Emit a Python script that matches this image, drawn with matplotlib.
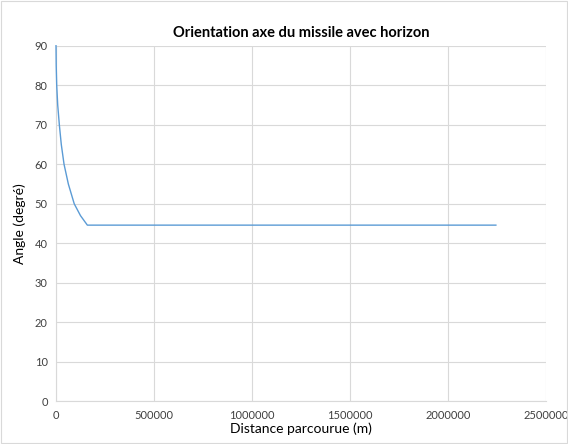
import matplotlib.pyplot as plt

# distance parcourue (m) / angle (degrés)
distance = [0, 1000, 3600, 8700, 17000, 27000, 41000, 63000, 93000, 125000, 160000, 2245000]
angle = [90, 85, 80, 75, 70, 65, 60, 55, 50, 47, 44.6, 44.6]

x_ticks = [0, 500000, 1000000, 1500000, 2000000, 2500000]
y_ticks = list(range(0, 91, 10))

plt.rcParams['font.family'] = ['Lato', 'DejaVu Sans']

fig = plt.figure(figsize=(5.68, 4.44), dpi=100)
ax = fig.add_axes([0.0986, 0.096, 0.8624, 0.801])

ax.plot(distance, angle, color='#5b9bd5', lw=1.0, zorder=3, clip_on=False)

ax.set_xlim(0, 2500000)
ax.set_ylim(0, 90)
ax.set_xticks(x_ticks)
ax.set_yticks(y_ticks)
ax.set_xticklabels([str(t) for t in x_ticks])
ax.tick_params(axis='both', length=0, labelsize=8, colors='#404040', pad=6)
ax.grid(True, color='#d9d9d9', lw=0.8)
ax.set_axisbelow(True)
for s in ['top', 'right']:
    ax.spines[s].set_visible(False)
ax.spines['left'].set_color('#d9d9d9')
ax.spines['bottom'].set_color('#d9d9d9')

ax.set_title('Orientation axe du missile avec horizon', fontsize=10.5, fontweight='bold',
             color='#000000', pad=6)
ax.set_xlabel('Distance parcourue (m)', fontsize=10, labelpad=1)
ax.set_ylabel('Angle (degré)', fontsize=10, labelpad=6)

# bordure du graphique
fig.patches.append(plt.Rectangle((0.002, 0.002), 0.996, 0.996, transform=fig.transFigure,
                                 fill=False, edgecolor='#d9d9d9', lw=0.8))

fig.savefig('out.png', dpi=100)
